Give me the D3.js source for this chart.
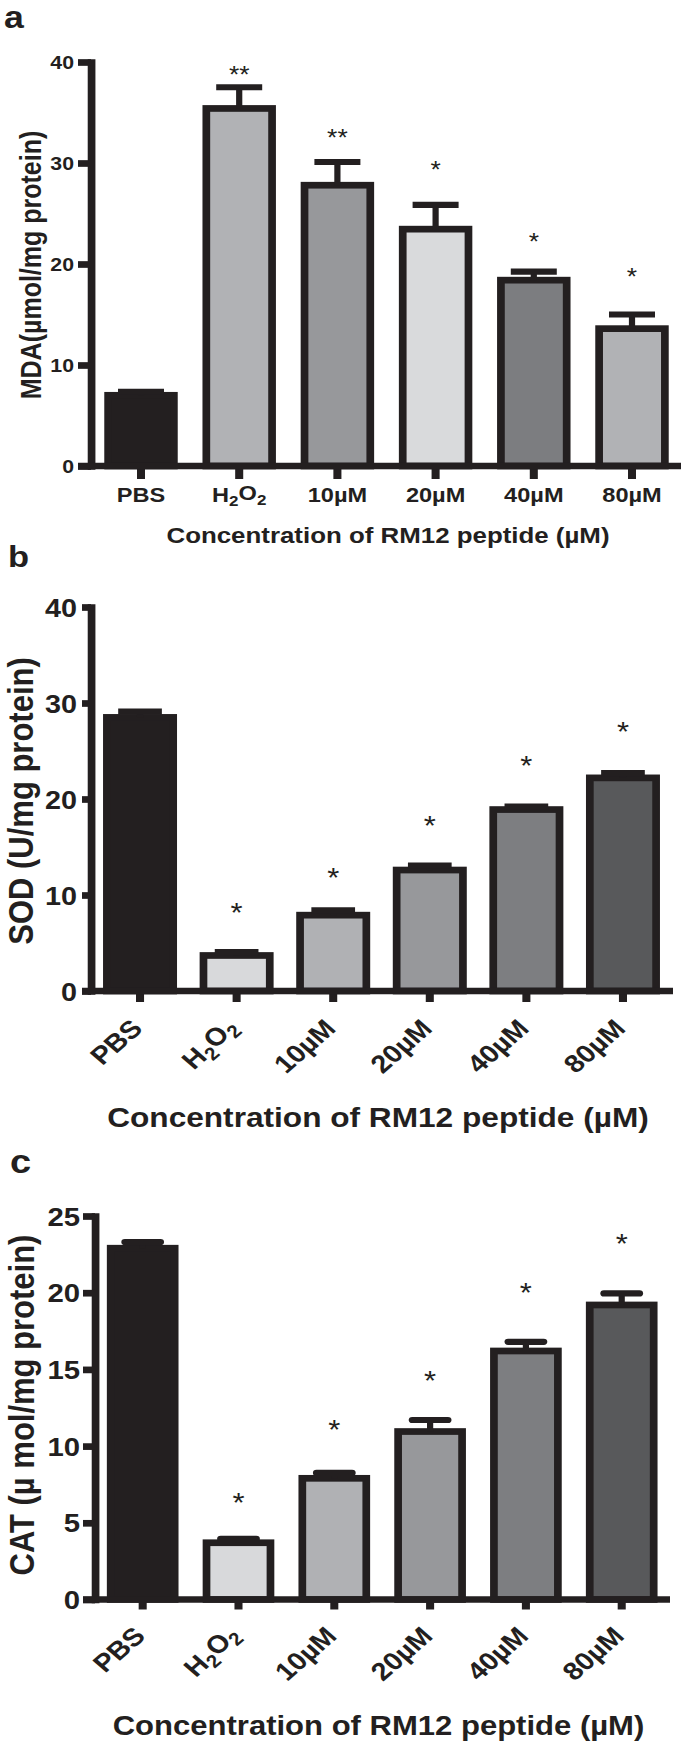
<!DOCTYPE html>
<html>
<head>
<meta charset="utf-8">
<script src="https://cdn.jsdelivr.net/npm/d3@7"></script>
<style>
  html, body { margin: 0; padding: 0; background: #fff; }
  svg { display: block; }
  text { font-family: "Liberation Sans", Arial, Helvetica, sans-serif; fill: #231f20; }
</style>
</head>
<body>
<svg id="chart" width="685" height="1747"></svg>
<script>
// ---------------- data ----------------
const categories = ["PBS", "H2O2", "10µM", "20µM", "40µM", "80µM"];

const mdaValues = [7.0, 35.4, 27.8, 23.45, 18.4, 13.6];
const mdaErrors = [0.35, 2.1, 2.3, 2.4, 0.85, 1.4];
const mdaStars = ["", "**", "**", "*", "*", "*"];
const mdaStarLevels = [null, 39.2, 33.0, 29.8, 22.7, 19.2];
const mdaTicks = [0, 10, 20, 30, 40];

const sodValues = [28.5, 3.7, 7.9, 12.6, 18.9, 22.2];
const sodErrors = [0.6, 0.35, 0.5, 0.45, 0.3, 0.5];
const sodStars = ["", "*", "*", "*", "*", "*"];
const sodStarLevels = [null, 8.8, 12.5, 17.9, 24.1, 27.7];
const sodTicks = [0, 10, 20, 30, 40];

const catValues = [22.9, 3.7, 7.9, 10.95, 16.2, 19.2];
const catErrors = [0.4, 0.25, 0.35, 0.75, 0.6, 0.75];
const catStars = ["", "*", "*", "*", "*", "*"];
const catStarLevels = [null, 6.7, 11.5, 14.7, 20.4, 23.6];
const catTicks = [0, 5, 10, 15, 20, 25];

const xTitle = "Concentration of RM12 peptide (µM)";
const mdaTitle = "MDA(µmol/mg protein)";
const sodTitle = "SOD (U/mg protein)";
const catTitle = "CAT (µ mol/mg protein)";

const fillsA = ["#231f20", "#b1b2b5", "#97989b", "#d9dadc", "#7c7d80", "#b1b2b5"];
const fillsBC = ["#231f20", "#d8d9db", "#b0b1b4", "#97989b", "#7d7e81", "#58595b"];

// ---------------- layout ----------------
const INK = "#231f20";
const SX = 1.15;           // the figure is horizontally stretched
const SW = 6.7;            // outline thickness

const svg = d3.select("#chart");
svg.append("rect").attr("width", 685).attr("height", 1747).attr("fill", "#fff");
const root = svg.append("g").attr("transform", `scale(${SX},1)`);

function writeCategory(sel, d) {
  sel.text(null);
  if (d === "H2O2") {
    sel.append("tspan").text("H");
    sel.append("tspan").text("2").attr("font-size", "0.72em").attr("dy", "0.28em");
    sel.append("tspan").text("O").attr("dy", "-0.28em");
    sel.append("tspan").text("2").attr("font-size", "0.72em").attr("dy", "0.28em");
  } else {
    sel.text(d);
  }
}

function panel(c) {
  const g = root.append("g");
  const x = d3.scaleBand().domain(categories)
    .range([c.xr[0] / SX, c.xr[1] / SX])
    .paddingInner(c.pi).paddingOuter(c.po);
  const y = d3.scaleLinear().domain(c.domain).range(c.yr);
  const cx = d => x(d) + x.bandwidth() / 2;
  const ax = c.axisX / SX;

  // bars
  g.selectAll("rect.bar").data(categories).join("rect")
    .attr("class", "bar")
    .attr("x", d => x(d) + SW / 2)
    .attr("width", x.bandwidth() - SW)
    .attr("y", (d, i) => y(c.values[i]))
    .attr("height", (d, i) => y(0) - y(c.values[i]))
    .attr("fill", (d, i) => c.fills[i])
    .attr("stroke", INK).attr("stroke-width", SW);

  // error bars (upper only)
  g.selectAll("line.stem").data(categories).join("line")
    .attr("class", "stem")
    .attr("x1", cx).attr("x2", cx)
    .attr("y1", (d, i) => y(c.values[i]))
    .attr("y2", (d, i) => y(c.values[i] + c.errors[i]))
    .attr("stroke", INK).attr("stroke-width", 5.4);
  g.selectAll("line.cap").data(categories).join("line")
    .attr("class", "cap")
    .attr("x1", d => cx(d) - c.capW / 2).attr("x2", d => cx(d) + c.capW / 2)
    .attr("y1", (d, i) => y(c.values[i] + c.errors[i]))
    .attr("y2", (d, i) => y(c.values[i] + c.errors[i]))
    .attr("stroke", INK).attr("stroke-width", 6.2)
    .attr("stroke-linecap", c.capRound ? "round" : "butt");

  // significance stars
  g.selectAll("text.star").data(categories).join("text")
    .attr("class", "star")
    .attr("x", cx)
    .attr("y", (d, i) => c.starLevels[i] == null ? 0 : y(c.starLevels[i]) + 0.58 * c.starFont)
    .attr("text-anchor", "middle")
    .attr("font-size", c.starFont)
    .text((d, i) => c.stars[i]);

  // y axis
  const yAxis = d3.axisLeft(y).tickValues(c.ticks).tickSize((c.axisX - c.tickLeft) / SX)
    .tickSizeOuter(0).tickPadding((c.tickLeft - c.labelRight) / SX).tickFormat(d3.format("d"));
  const ya = g.append("g").attr("transform", `translate(${ax},0)`).call(yAxis);
  ya.select(".domain").attr("stroke", INK).attr("stroke-width", SW)
    .attr("stroke-linecap", "square");
  ya.selectAll(".tick line").attr("stroke", INK).attr("stroke-width", SW);
  ya.selectAll(".tick text").attr("fill", INK).attr("font-size", c.tickFont)
    .attr("font-weight", "bold").attr("font-family", "Liberation Sans, Arial, sans-serif")
    .attr("dy", "0.36em");

  // x axis
  const xAxis = d3.axisBottom(x).tickSize(c.xTickLen).tickSizeOuter(0);
  const xa = g.append("g").attr("transform", `translate(0,${y(0)})`).call(xAxis);
  xa.select(".domain").remove();
  xa.append("line")
    .attr("x1", c.tickLeft / SX).attr("x2", c.xr[1] / SX)
    .attr("y1", 0).attr("y2", 0)
    .attr("stroke", INK).attr("stroke-width", SW);
  xa.selectAll(".tick line").attr("stroke", INK).attr("stroke-width", 7);
  const lab = xa.selectAll(".tick text")
    .attr("fill", INK).attr("font-size", c.xLabelFont).attr("font-weight", "bold")
    .attr("font-family", "Liberation Sans, Arial, sans-serif");
  lab.each(function (d) { writeCategory(d3.select(this), d); });
  if (c.rotate) {
    lab.attr("y", null).attr("dy", null)
      .attr("text-anchor", "end")
      .attr("transform", `translate(${4 / SX},${c.labelDy}) rotate(-45)`);
  } else {
    lab.attr("dy", null).attr("y", c.labelDy).attr("text-anchor", "middle");
  }

  // axis titles
  g.append("text")
    .attr("x", c.titleX / SX).attr("y", c.titleY)
    .attr("text-anchor", "middle").attr("font-weight", "bold")
    .attr("font-size", c.titleFont).text(c.title);
  g.append("text")
    .attr("transform", `translate(${c.yTitleX / SX},${c.yTitleY}) rotate(-90)`)
    .attr("text-anchor", "middle").attr("font-weight", "bold")
    .attr("font-size", c.yTitleFont).text(c.yTitle);

  // panel letter
  g.append("text")
    .attr("x", c.letterX / SX).attr("y", c.letterY)
    .attr("font-weight", "bold").attr("font-size", c.letterFont).text(c.letter);
}

panel({
  values: mdaValues, errors: mdaErrors, stars: mdaStars, starLevels: mdaStarLevels,
  ticks: mdaTicks, domain: [0, 40], yr: [466, 62],
  xr: [92, 681], pi: 0.252, po: 0.125, fills: fillsA,
  axisX: 91, tickLeft: 78, labelRight: 74, tickFont: 18.5,
  xTickLen: 13, xLabelFont: 20.5, rotate: false, labelDy: 36,
  capW: 40, capRound: false, starFont: 23,
  title: xTitle, titleFont: 22.5, titleX: 388, titleY: 543,
  yTitle: mdaTitle, yTitleFont: 25, yTitleX: 41, yTitleY: 265,
  letter: "a", letterX: 4, letterY: 28.5, letterFont: 31
});

panel({
  values: sodValues, errors: sodErrors, stars: sodStars, starLevels: sodStarLevels,
  ticks: sodTicks, domain: [0, 40], yr: [991, 607],
  xr: [90, 673], pi: 0.234, po: 0.135, fills: fillsBC,
  axisX: 91, tickLeft: 82, labelRight: 77, tickFont: 25,
  xTickLen: 11, xLabelFont: 25, rotate: true, labelDy: 39,
  capW: 38, capRound: false, starFont: 27,
  title: xTitle, titleFont: 27.5, titleX: 378, titleY: 1127,
  yTitle: sodTitle, yTitleFont: 31, yTitleX: 33, yTitleY: 801,
  letter: "b", letterX: 8, letterY: 567, letterFont: 30
});

panel({
  values: catValues, errors: catErrors, stars: catStars, starLevels: catStarLevels,
  ticks: catTicks, domain: [0, 25], yr: [1599.5, 1216],
  xr: [94.4, 670], pi: 0.252, po: 0.13, fills: fillsBC,
  axisX: 95, tickLeft: 83, labelRight: 80, tickFont: 25.5,
  xTickLen: 10, xLabelFont: 25, rotate: true, labelDy: 38,
  capW: 31, capRound: true, starFont: 27,
  title: xTitle, titleFont: 27, titleX: 378.5, titleY: 1735,
  yTitle: catTitle, yTitleFont: 31, yTitleX: 33.5, yTitleY: 1405,
  letter: "c", letterX: 10, letterY: 1173, letterFont: 33
});
</script>
</body>
</html>
